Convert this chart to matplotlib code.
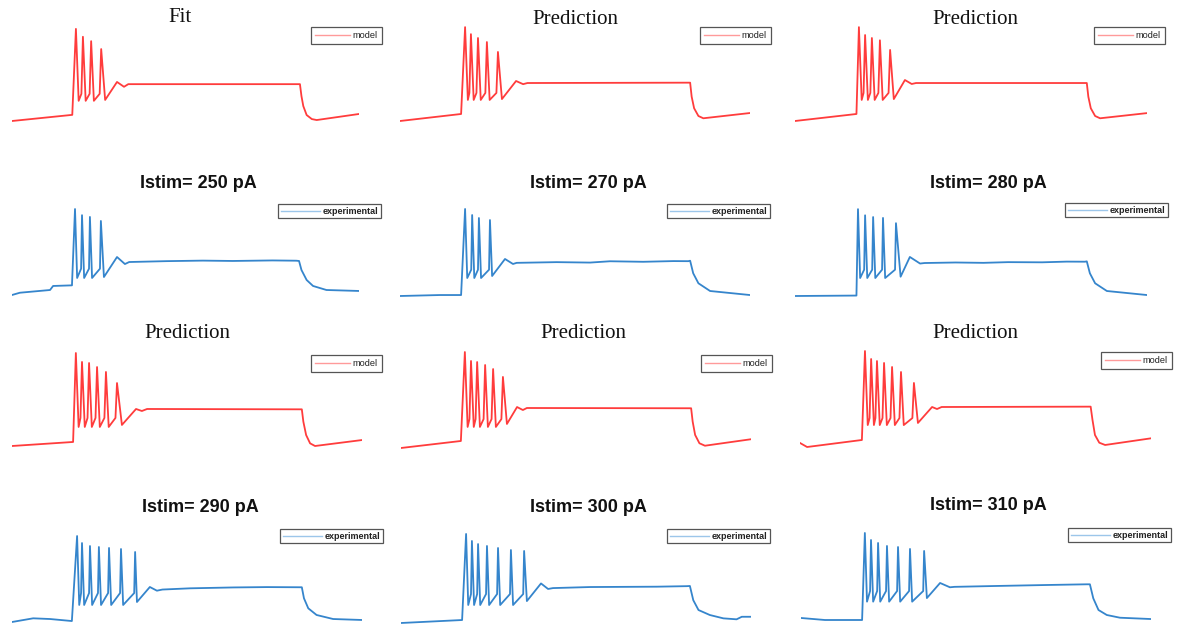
import matplotlib.pyplot as plt
from matplotlib.lines import Line2D

# 4 x 3 grid: model rows (red) above experimental rows (blue)
titles = ["Fit", "Prediction", "Prediction",
          "Istim= 250 pA", "Istim= 270 pA", "Istim= 280 pA",
          "Prediction", "Prediction", "Prediction",
          "Istim= 290 pA", "Istim= 300 pA", "Istim= 310 pA"]
kinds = ["model"] * 3 + ["experimental"] * 3 + ["model"] * 3 + ["experimental"] * 3

# membrane potential traces, time in ms, voltage in mV
# resting part up to stimulus onset
rest_t = [[0, 198], [0, 199], [0, 199],
          [0, 26, 125, 135, 197], [0, 130, 199], [0, 199],
          [0, 199], [0, 195], [0, 23, 201],
          [0, 69, 124, 195], [0, 199], [0, 78, 199]]
rest_v = [[-75, -68], [-75, -67], [-75, -67],
          [-75, -72.4, -69.3, -64.7, -64], [-75, -73.9, -73.9], [-75, -74.5],
          [-75, -70.4], [-75, -67], [-70.4, -75, -67],
          [-75, -70.8, -71.6, -73.9], [-75, -71.6], [-72.7, -75, -75]]

# spike peaks
spike_t = [[210, 233, 260, 293],
           [212, 231, 254, 283, 319],
           [207, 227, 249, 275, 308],
           [207, 230, 256, 292],
           [212, 235, 257, 293],
           [204, 227, 253, 285, 327],
           [208, 228, 251, 277, 306, 342],
           [208, 228, 248, 274, 300, 332],
           [211, 231, 250, 273, 299, 328, 370],
           [212, 228, 254, 283, 316, 355, 401],
           [212, 231, 251, 280, 316, 358, 401],
           [208, 228, 251, 280, 316, 355, 401]]
spike_v = [[30, 21, 16, 7],
           [32, 24, 19.6, 15, 3.7],
           [32, 23, 19.6, 17, 6],
           [23, 16, 14, 9.4],
           [24.2, 17.3, 13.9, 11.6],
           [24, 17, 15, 14, 8],
           [31, 20.8, 19.6, 15, 9.4, -3.2],
           [34.4, 24.2, 23, 19.6, 15, 6],
           [34.4, 25.3, 23, 20.8, 16.2, 10.5, -2],
           [23, 15, 11.6, 10.5, 9.4, 8.2, 4.8],
           [26.5, 18.5, 15, 12.8, 10.5, 8.2, 7.1],
           [24.2, 16.2, 12.8, 9.4, 8.2, 6, 3.7]]

# after-hyperpolarisation between spikes and the level reached before the next one
trough_v = [-52, -51, -51, -55.6, -54.5, -54.5, -53.3, -51, -50, -55.6, -54.5, -54.1]
foot_v = [-44, -43, -43, -45, -45, -45, -43, -42, -42, -42, -42, -42]

# last AHP, overshoot, dip and the plateau during the step
after_t = [[306, 345, 368, 382],
           [332, 378, 401, 415],
           [320, 356, 378, 392],
           [302, 345, 371, 385, 508, 627, 725, 856, 934],
           [300, 342, 368, 380, 510, 619, 684, 792, 890, 939],
           [342, 372, 405, 420, 520, 610, 690, 800, 880, 939],
           [358, 404, 423, 440],
           [345, 378, 397, 410],
           [383, 429, 445, 460],
           [407, 449, 472, 490, 580, 721, 830, 938],
           [410, 456, 479, 495, 616, 724, 833, 931],
           [410, 453, 485, 500, 637, 800, 931]]
after_v = [[-51, -30.5, -36, -33],
           [-50, -29.4, -33, -31.7],
           [-50, -28.3, -32.8, -31.7],
           [-54.5, -31.7, -39.7, -37.4, -36.4, -35.8, -36.2, -35.6, -35.9],
           [-52.2, -32.8, -38.5, -37.2, -36.4, -36.9, -35.4, -36.0, -35.2, -35.3],
           [-53, -30.5, -38, -37.4, -36.8, -37.2, -36.4, -36.6, -35.8, -35.9],
           [-51, -32.8, -35.1, -32.8],
           [-47.6, -28.3, -31.7, -29.4],
           [-47.6, -29.4, -31.7, -29.4],
           [-52.2, -35.1, -39.3, -38.0, -36.6, -35.6, -35.2, -35.4],
           [-50, -29.9, -36.2, -35.2, -34.0, -33.8, -33.6, -33.0],
           [-50, -32.8, -37.7, -37.2, -36.2, -35.1, -34.3]]

# stimulus offset and repolarisation
decay_t = [[946, 951, 957, 968, 985, 1001, 1140],
           [945, 950, 958, 972, 988, 1140],
           [945, 950, 958, 972, 988, 1140],
           [943, 951, 968, 989, 1033, 1140],
           [945, 955, 972, 1010, 1140],
           [945, 955, 972, 1010, 1140],
           [944, 949, 958, 971, 987, 1140],
           [945, 950, 958, 972, 990, 1140],
           [944, 950, 958, 972, 991, 1140],
           [944, 951, 965, 992, 1046, 1140],
           [941, 952, 969, 1006, 1050, 1093, 1110, 1137],
           [941, 952, 969, 996, 1039, 1140]]
decay_v = [[-33, -46.7, -58, -68.2, -72.8, -73.9, -67],
           [-31.3, -47.3, -60.5, -69.3, -71.9, -65.9],
           [-31.7, -47.3, -60.5, -69.3, -71.9, -66],
           [-36.2, -46.5, -57.9, -64.7, -69.3, -70.4],
           [-34.8, -49.1, -60.5, -69.3, -73.9],
           [-35.5, -49.1, -60.5, -69.3, -73.9],
           [-33.2, -47.3, -62.5, -72, -75, -68.2],
           [-29.7, -44.9, -60.1, -69.6, -72.4, -65],
           [-29, -44.2, -61.3, -70.1, -72.7, -65.1],
           [-35.4, -48, -59.4, -67, -71.6, -72.7],
           [-32.8, -49, -60.2, -65.9, -69.7, -70.8, -67.9, -67.9],
           [-34.3, -50.3, -63.6, -69.3, -72.4, -73.9]]

# ---------------------------------------------------------------
# layout (pixels): trace left edge, trace width, y of -75 mV
W, H = 1177, 624
panel_x0 = [12, 400, 795, 12, 400, 795, 12, 401, 800, 12, 401, 801]
panel_w = [347, 350, 352, 347, 350, 352, 350, 350, 351, 350, 350, 350]
panel_base = [121, 121, 121, 295, 296, 296, 446, 448, 447, 622, 623, 620]
title_xy = [(180, 18), (575, 20), (975, 20),
            (198, 183), (588, 183), (988, 183),
            (187, 333), (583, 334), (975, 333),
            (200, 507), (588, 507), (988, 506)]
legend_xy = [(382, 27), (771, 27), (1165, 27),
             (381, 204), (770, 204), (1168, 203),
             (382, 355), (772, 355), (1172, 352),
             (383, 529), (770, 529), (1171, 528)]

mv_per_px = 1.14
t_max = 1140
v_lo, v_hi = -80, 38

colors = {"model": "#ff3c3c", "experimental": "#3585cc"}
legend_colors = {"model": "#ff9a9a", "experimental": "#9cc6ea"}
rise = {"model": 5, "experimental": 3}
fall = {"model": 9, "experimental": 7}


def build_trace(i):
    kind = kinds[i]
    t = list(rest_t[i])
    v = list(rest_v[i])
    n = len(spike_t[i])
    for k in range(n):
        if k > 0:
            t.append(spike_t[i][k] - rise[kind])
            v.append(foot_v[i])
        t.append(spike_t[i][k])
        v.append(spike_v[i][k])
        if k < n - 1:
            t.append(spike_t[i][k] + fall[kind])
            v.append(trough_v[i])
    t += after_t[i] + decay_t[i]
    v += after_v[i] + decay_v[i]
    return t, v


fig = plt.figure(figsize=(W / 100, H / 100), dpi=100)
fig.patch.set_facecolor("white")

for i in range(12):
    kind = kinds[i]
    h_px = (v_hi - v_lo) / mv_per_px
    bottom_px = panel_base[i] + (-75 - v_lo) / mv_per_px
    ax = fig.add_axes([panel_x0[i] / W, 1 - bottom_px / H,
                       panel_w[i] / W, h_px / H])
    t, v = build_trace(i)
    ax.plot(t, v, color=colors[kind], lw=1.3, solid_joinstyle="round")
    ax.set_xlim(0, t_max)
    ax.set_ylim(v_lo, v_hi)
    ax.axis("off")

    # title
    tx, ty = title_xy[i]
    if kind == "model":
        fig.text(tx / W, 1 - ty / H, titles[i], ha="center", va="center",
                 fontsize=15, family="Liberation Serif", color="#111111")
    else:
        fig.text(tx / W, 1 - ty / H, titles[i], ha="center", va="center",
                 fontsize=13, family="Liberation Sans", weight="bold",
                 color="#111111")

    # legend box
    lx, ly = legend_xy[i]
    fsize = 6.6 if kind == "model" else 6.5
    handle = Line2D([], [], color=legend_colors[kind], lw=1.0)
    leg = ax.legend([handle], [kind], loc="upper right",
                    bbox_to_anchor=(lx / W, 1 - ly / H),
                    bbox_transform=fig.transFigure,
                    handlelength=3.8 if kind == "model" else 4.3,
                    handletextpad=0.3,
                    borderpad=0.45 if kind == "model" else 0.3,
                    borderaxespad=0,
                    fancybox=False, framealpha=1, edgecolor="#555555",
                    prop={"family": "Liberation Sans",
                          "weight": "normal" if kind == "model" else "bold",
                          "size": fsize})
    leg.get_frame().set_linewidth(0.9)
    for txt in leg.get_texts():
        txt.set_color("#222222")

fig.savefig("out.png", dpi=100, facecolor="white")
